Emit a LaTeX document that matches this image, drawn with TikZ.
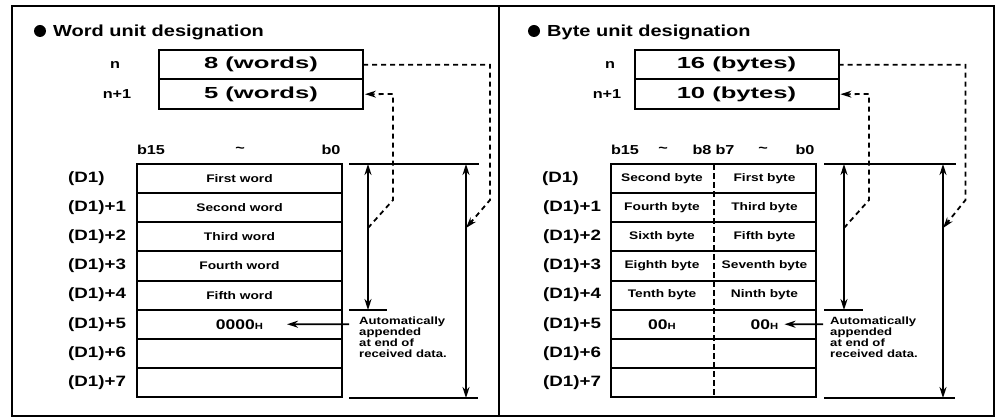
\documentclass[tikz,border=0pt]{standalone}
\usepackage{fontspec}
\usepackage{tikz}
\usetikzlibrary{arrows.meta,positioning}

\newfontfamily\labfont{Liberation Sans}[FakeStretch=1.25]
\newfontfamily\widefont{Liberation Sans}[FakeStretch=1.6]
\newcommand{\hx}{{\fontsize{9}{9}\selectfont H}}

\tikzset{
  frame/.style={line width=2.6pt},
  bullet/.style={circle,fill=black,inner sep=0pt,minimum size=12pt},
  titletext/.style={anchor=base west,inner sep=0pt,font=\labfont\bfseries\fontsize{16}{16}\selectfont},
  cntbox/.style={draw,line width=2pt,outer sep=0pt,inner sep=0pt,minimum width=204pt,minimum height=29.5pt,
    font=\widefont\bfseries\fontsize{16}{16}\selectfont},
  cellbox/.style={draw,line width=2pt,outer sep=0pt,inner sep=0pt,minimum width=205pt,minimum height=29.125pt,
    font=\labfont\bfseries\fontsize{11}{11}\selectfont},
  celltext/.style={inner sep=0pt,font=\labfont\bfseries\fontsize{11}{11}\selectfont},
  bigcell/.style={inner sep=0pt,font=\labfont\bfseries\fontsize{14}{14}\selectfont},
  rowlab/.style={anchor=west,inner sep=0pt,font=\labfont\bfseries\fontsize{15}{15}\selectfont},
  bitlab/.style={inner sep=0pt,font=\labfont\bfseries\fontsize{13}{13}\selectfont},
  note/.style={anchor=north west,align=left,inner sep=0pt,
    font=\labfont\bfseries\fontsize{10.5}{11}\selectfont},
  rule/.style={line width=1.8pt},
  dimarrow/.style={line width=1.8pt,{Stealth[length=11pt,width=7pt]}-{Stealth[length=11pt,width=7pt]}},
  pointer/.style={line width=1.8pt,-{Stealth[length=11pt,width=7pt]}},
  dline/.style={line width=1.8pt,dash pattern=on 5pt off 4pt},
  divline/.style={line width=2pt,dash pattern=on 6pt off 3pt}
}

\begin{document}
\begin{tikzpicture}[x=1pt,y=-1pt]
  \useasboundingbox (0,0) rectangle (996,419);
  % outer frame
  \draw[frame] (12,6) rectangle (994,416);
  \draw[frame] (499,6) -- (499,416);

  % ---------- word unit designation ----------
  \node[bullet] (wdot) at (40,31) {};
  \node[titletext] (wtitle) at (53,37) {Word unit designation};

  \node[cntbox] (wn) at (261,64.75) {8 (words)};
  \node[cntbox,below=0pt of wn] (wn1) {5 (words)};
  \node[bitlab] (wnl) at (115,64.75) {n};
  \node[bitlab] (wnl1) at (117,94.25) {n+1};

  \node[bitlab] (wb15) at (151,150) {b15};
  \node[bitlab] (wtil) at (240,150) {\textasciitilde};
  \node[bitlab] (wb0) at (331,150) {b0};

  \node[cellbox] (w0) at (239.5,178.6) {First word};
  \node[cellbox,below=0pt of w0] (w1) {Second word};
  \node[cellbox,below=0pt of w1] (w2) {Third word};
  \node[cellbox,below=0pt of w2] (w3) {Fourth word};
  \node[cellbox,below=0pt of w3] (w4) {Fifth word};
  \node[cellbox,below=0pt of w4,font=\labfont\bfseries\fontsize{14}{14}\selectfont] (w5) {0000\hx};
  \node[cellbox,below=0pt of w5] (w6) {};
  \node[cellbox,below=0pt of w6] (w7) {};

  \node[rowlab] (wl0) at ([xshift=-69pt]w0.west) {(D1)};
  \foreach \k in {1,...,7}
    \node[rowlab] (wl\k) at ([xshift=-69pt]w\k.west) {(D1)+\k};

  % lengths on the right
  \coordinate (wtopl) at (349,164);
  \coordinate (wtopr) at (479,164);
  \coordinate (wsa) at (368,164);
  \coordinate (wsb) at (368,310);
  \coordinate (wsl) at (349,310);
  \coordinate (wsr) at (387,310);
  \coordinate (wta) at (466,164);
  \coordinate (wtb) at (466,398);
  \coordinate (wbl) at (349,398);
  \coordinate (wbr) at (478,398);
  \coordinate (wjs) at (368,228);
  \coordinate (wjt) at (466,228);
  \draw[rule] (wtopl) -- (wtopr);
  \draw[rule] (wsl) -- (wsr);
  \draw[rule] (wbl) -- (wbr);
  \draw[dimarrow] (wsa) -- (wsb);
  \draw[dimarrow] (wta) -- (wtb);

  \draw[dline,-{Stealth[length=11pt,width=7pt]}] (wn.east) -- ++(127,0) -- ++(0,135.25) -- (wjt);
  \draw[dline,-{Stealth[length=11pt,width=7pt]},shorten >=2pt] (wjs) -- ++(25,-28) -- ++(0,-106) -- (wn1.east);

  \node[note] (wnote) at (359,317) {Automatically\\appended\\at end of\\received data.};
  \coordinate (wna) at (349,324.2);
  \draw[pointer] (wna) -- ([xshift=47.5pt]w5.center);

  % ---------- byte unit designation ----------
  \node[bullet] (rdot) at (534,31) {};
  \node[titletext] (rtitle) at (547,37) {Byte unit designation};

  \node[cntbox] (rn) at (736.5,64.75) {16 (bytes)};
  \node[cntbox,below=0pt of rn] (rn1) {10 (bytes)};
  \node[bitlab] (rnl) at (610,64.75) {n};
  \node[bitlab] (rnl1) at (607,94.25) {n+1};

  \node[bitlab] (rb15) at (625,150) {b15};
  \node[bitlab] (rtil) at (663,150) {\textasciitilde};
  \node[bitlab] (rb8) at (702,150) {b8};
  \node[bitlab] (rb7) at (725,150) {b7};
  \node[bitlab] (rtil2) at (763,150) {\textasciitilde};
  \node[bitlab] (rb0) at (805,150) {b0};

  \node[cellbox] (r0) at (713.5,178.6) {};
  \foreach \k [count=\j from 1] in {0,...,6}
    \node[cellbox,below=0pt of r\k] (r\j) {};
  \draw[divline] (r0.north) -- (r7.south);

  \node[celltext] at ([xshift=-51.5pt]r0.center) {Second byte};
  \node[celltext] at ([xshift=51pt]r0.center) {First byte};
  \node[celltext] at ([xshift=-51.5pt]r1.center) {Fourth byte};
  \node[celltext] at ([xshift=51pt]r1.center) {Third byte};
  \node[celltext] at ([xshift=-51.5pt]r2.center) {Sixth byte};
  \node[celltext] at ([xshift=51pt]r2.center) {Fifth byte};
  \node[celltext] at ([xshift=-51.5pt]r3.center) {Eighth byte};
  \node[celltext] at ([xshift=51pt]r3.center) {Seventh byte};
  \node[celltext] at ([xshift=-51.5pt]r4.center) {Tenth byte};
  \node[celltext] at ([xshift=51pt]r4.center) {Ninth byte};
  \node[bigcell] at ([xshift=-51.5pt]r5.center) {00\hx};
  \node[bigcell] at ([xshift=51pt]r5.center) {00\hx};

  \node[rowlab] (rl0) at ([xshift=-69pt]r0.west) {(D1)};
  \foreach \k in {1,...,7}
    \node[rowlab] (rl\k) at ([xshift=-68pt]r\k.west) {(D1)+\k};

  \coordinate (rtopl) at (824,164);
  \coordinate (rtopr) at (956,164);
  \coordinate (rsa) at (844,164);
  \coordinate (rsb) at (844,310);
  \coordinate (rsl) at (824,310);
  \coordinate (rsr) at (863,310);
  \coordinate (rta) at (943,164);
  \coordinate (rtb) at (943,398);
  \coordinate (rbl) at (824,398);
  \coordinate (rbr) at (955,398);
  \coordinate (rjs) at (844,228);
  \coordinate (rjt) at (943,228);
  \draw[rule] (rtopl) -- (rtopr);
  \draw[rule] (rsl) -- (rsr);
  \draw[rule] (rbl) -- (rbr);
  \draw[dimarrow] (rsa) -- (rsb);
  \draw[dimarrow] (rta) -- (rtb);

  \draw[dline,-{Stealth[length=11pt,width=7pt]}] (rn.east) -- ++(127,0) -- ++(0,135.25) -- (rjt);
  \draw[dline,-{Stealth[length=11pt,width=7pt]},shorten >=2pt] (rjs) -- ++(25,-28) -- ++(0,-106) -- (rn1.east);

  \node[note] (rnote) at (830,317) {Automatically\\appended\\at end of\\received data.};
  \coordinate (rna) at (823,324.2);
  \draw[pointer] (rna) -- ([xshift=71pt]r5.center);
\end{tikzpicture}
\end{document}
